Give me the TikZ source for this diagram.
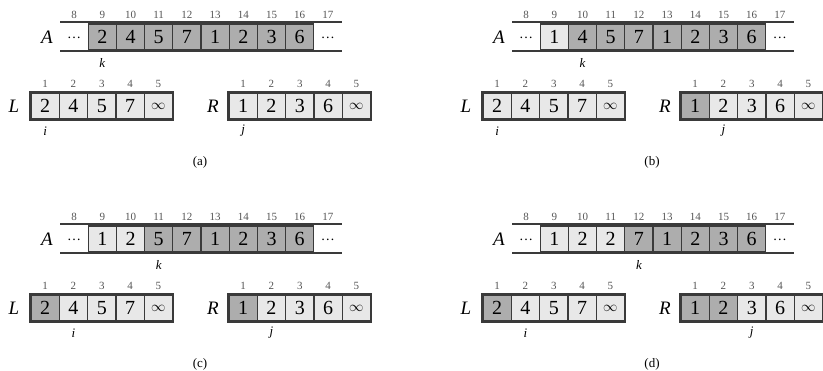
\documentclass[tikz,border=0pt]{standalone}
\usepackage{fontspec}
\setmainfont{Liberation Serif}
\definecolor{heavy}{HTML}{ADADAD}
\definecolor{light}{HTML}{E8E8E8}
\definecolor{edge}{HTML}{3A3A3A}
\definecolor{idxc}{HTML}{555555}
\tikzset{
  x=1pt,y=-1pt,
  cellbase/.style={draw=edge, line width=1.2pt, minimum width=28.3pt, minimum height=26pt, inner sep=0pt, font=\fontsize{20}{20}\selectfont},
  cellH/.style={cellbase, fill=heavy},
  cellL/.style={cellbase, fill=light},
  dotcell/.style={inner sep=0pt, font=\fontsize{14}{14}\selectfont},
  rail/.style={draw=edge, line width=2pt},
  outer/.style={draw=edge, line width=2pt},
  arrlbl/.style={font=\fontsize{19}{19}\selectfont\itshape, inner sep=0pt},
  idx/.style={font=\fontsize{11}{11}\selectfont, text=idxc, inner sep=0pt},
  ptr/.style={font=\fontsize{13}{13}\selectfont\itshape, inner sep=0pt},
  capt/.style={font=\fontsize{13}{13}\selectfont, inner sep=0pt},
}
\newcommand{\infcell}{{\fontsize{15}{15}\selectfont$\infty$}}
% #1 tag, #2 dx, #3 dy, #4 A cells, #5 L cells, #6 R cells, #7 k, #8 i, #9 j
\newcommand{\mergepanel}[9]{%
\begin{scope}[shift={(#2,#3)}]
  \node[arrlbl] (Alab#1) at (47,37) {A};
  \draw[rail] (60,22) -- (342,22);
  \draw[rail] (60,51) -- (342,51);
  \node[dotcell] (Aleft#1) at (74.1,38) {\dots};
  \node[dotcell] (Aright#1) at (327.9,38) {\dots};
  \foreach \v/\s [count=\n from 9] in {#4}
    \node[cell\s] (A#1\n) at ({74.1+28.2*(\n-8)},37) {\v};
  \foreach \n in {8,...,17}
    \node[idx] (Ai#1\n) at ({74.1+28.2*(\n-8)},15) {\n};
  \node[ptr] (k#1) at ({74.1+28.2*(#7-8)},63) {k};
  \node[arrlbl] (Llab#1) at (14,106) {L};
  \foreach \v/\s [count=\n] in {#5} {
    \node[cell\s] (L#1\n) at ({31+28.3*(\n-0.5)},106) {\v};
    \node[idx] (Li#1\n) at ({31+28.3*(\n-0.5)},84) {\n};
  }
  \draw[outer] (L#11.north west) rectangle (L#15.south east);
  \node[ptr] (i#1) at ({31+28.3*(#8-0.5)},131) {i};
  \node[arrlbl] (Rlab#1) at (213,106) {R};
  \foreach \v/\s [count=\n] in {#6} {
    \node[cell\s] (R#1\n) at ({229+28.3*(\n-0.5)},106) {\v};
    \node[idx] (Ri#1\n) at ({229+28.3*(\n-0.5)},84) {\n};
  }
  \draw[outer] (R#11.north west) rectangle (R#15.south east);
  \node[ptr] (j#1) at ({229+28.3*(#9-0.5)},131) {j};
  \node[capt] (cap#1) at (200,162) {(#1)};
\end{scope}}
\begin{document}
\begin{tikzpicture}
\useasboundingbox (0,0) rectangle (823,371);
\mergepanel{a}{0}{0}{2/H,4/H,5/H,7/H,1/H,2/H,3/H,6/H}{2/L,4/L,5/L,7/L,\infcell/L}{1/L,2/L,3/L,6/L,\infcell/L}{9}{1}{1}
\mergepanel{b}{452}{0}{1/L,4/H,5/H,7/H,1/H,2/H,3/H,6/H}{2/L,4/L,5/L,7/L,\infcell/L}{1/H,2/L,3/L,6/L,\infcell/L}{10}{1}{2}
\mergepanel{c}{0}{202}{1/L,2/L,5/H,7/H,1/H,2/H,3/H,6/H}{2/H,4/L,5/L,7/L,\infcell/L}{1/H,2/L,3/L,6/L,\infcell/L}{11}{2}{2}
\mergepanel{d}{452}{202}{1/L,2/L,2/L,7/H,1/H,2/H,3/H,6/H}{2/H,4/L,5/L,7/L,\infcell/L}{1/H,2/H,3/L,6/L,\infcell/L}{12}{2}{3}
\end{tikzpicture}
\end{document}
